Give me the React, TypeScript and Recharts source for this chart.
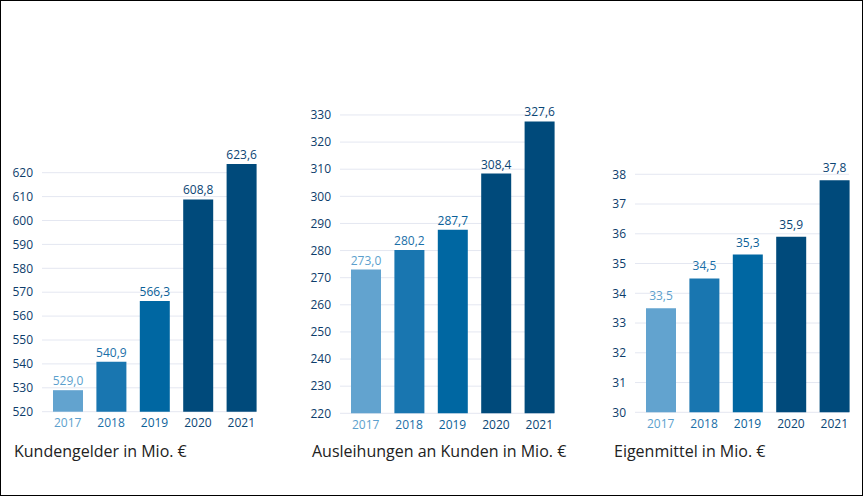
import React from 'react';
import { BarChart, Bar, XAxis, YAxis, CartesianGrid, Cell } from 'recharts';

const years = ['2017', '2018', '2019', '2020', '2021'];
const kundengelder = [529.0, 540.9, 566.3, 608.8, 623.6];
const ausleihungen = [273.0, 280.2, 287.7, 308.4, 327.6];
const eigenmittel = [33.5, 34.5, 35.3, 35.9, 37.8];
const barColors = ['#62a3cf', '#1976b0', '#0067a2', '#004a7b', '#004a7b'];
const textColors = ['#5c9fcd', '#1a6fa8', '#0a5f98', '#0b4574', '#0b4574'];
const ticksKunden = [520, 530, 540, 550, 560, 570, 580, 590, 600, 610, 620];
const ticksAusleih = [220, 230, 240, 250, 260, 270, 280, 290, 300, 310, 320, 330];
const ticksEigen = [30, 31, 32, 33, 34, 35, 36, 37, 38];

const FONT = '"Open Sans", "Noto Sans", sans-serif';

type PanelProps = {
  title: string;
  values: number[];
  ticks: number[];
  domain: [number, number];
  left: number;
  titleLeft: number;
  marginTop: number;
  marginBottom: number;
  labelGap: number;
};

const fmt = (v: number) => v.toFixed(1).replace('.', ',');

function Panel({ title, values, ticks, domain, left, titleLeft, marginTop, marginBottom, labelGap }: PanelProps) {
  const data = years.map((y, i) => ({ year: y, value: values[i] }));
  const XTick = (props: any) => {
    const idx = props.index ?? years.indexOf(props.payload?.value);
    return (
      <text
        x={props.x}
        y={props.y}
        dy="0.71em"
        textAnchor="middle"
        fontSize={12}
        fontFamily={FONT}
        fill={textColors[idx] || '#0b4574'}
      >
        {props.payload.value}
      </text>
    );
  };
  const renderLabel = (props: any) => {
    const { x, y, width, value, index } = props;
    return (
      <text
        x={Number(x) + Number(width) / 2}
        y={Number(y) - labelGap}
        textAnchor="middle"
        fontSize={12}
        fontFamily={FONT}
        fill={textColors[index] || '#0b4574'}
      >
        {fmt(Number(value))}
      </text>
    );
  };
  return (
    <div style={{ position: 'absolute', left, top: 0, width: 280, height: 496 }}>
      <BarChart
        width={280}
        height={496}
        data={data}
        margin={{ top: marginTop, right: 24, bottom: marginBottom, left: 0 }}
        barSize={30}
      >
        <CartesianGrid vertical={false} stroke="#e4e7f1" strokeWidth={1} syncWithTicks />
        <XAxis
          dataKey="year"
          axisLine={false}
          tickLine={false}
          tickMargin={1}
          height={30}
          padding={{ left: 4, right: -7 }}
          tick={XTick}
          interval={0}
        />
        <YAxis
          type="number"
          domain={domain}
          ticks={ticks}
          interval={0}
          axisLine={false}
          tickLine={false}
          tickMargin={3}
          width={42}
          tick={{ fontSize: 12, fill: '#0d3d6b', fontFamily: FONT }}
        />
        <Bar dataKey="value" isAnimationActive={false} label={renderLabel}>
          {data.map((d, i) => (
            <Cell key={d.year} fill={barColors[i]} />
          ))}
        </Bar>
      </BarChart>
      <div
        style={{
          position: 'absolute',
          left: titleLeft,
          top: 441,
          fontFamily: FONT,
          fontSize: 16,
          color: '#222',
          whiteSpace: 'nowrap',
          lineHeight: '20px',
        }}
      >
        {title}
      </div>
    </div>
  );
}

export default function App() {
  return (
    <div style={{ position: 'absolute', left: 0, top: 0, width: 863, height: 496, background: '#fff', overflow: 'hidden' }}>
      <Panel
        title="Kundengelder in Mio. €"
        values={kundengelder}
        ticks={ticksKunden}
        domain={[520, 625]}
        left={0}
        titleLeft={14}
        marginTop={160.75}
        marginBottom={54.3}
        labelGap={5}
      />
      <Panel
        title="Ausleihungen an Kunden in Mio. €"
        values={ausleihungen}
        ticks={ticksAusleih}
        domain={[220, 335]}
        left={298}
        titleLeft={14}
        marginTop={101.4}
        marginBottom={52.7}
        labelGap={5}
      />
      <Panel
        title="Eigenmittel in Mio. €"
        values={eigenmittel}
        ticks={ticksEigen}
        domain={[30, 38.5]}
        left={593}
        titleLeft={21}
        marginTop={159.4}
        marginBottom={53.7}
        labelGap={8}
      />
      <div
        style={{
          position: 'absolute',
          left: 0,
          top: 0,
          width: 863,
          height: 496,
          boxSizing: 'border-box',
          border: '1px solid #000',
          pointerEvents: 'none',
        }}
      />
    </div>
  );
}
